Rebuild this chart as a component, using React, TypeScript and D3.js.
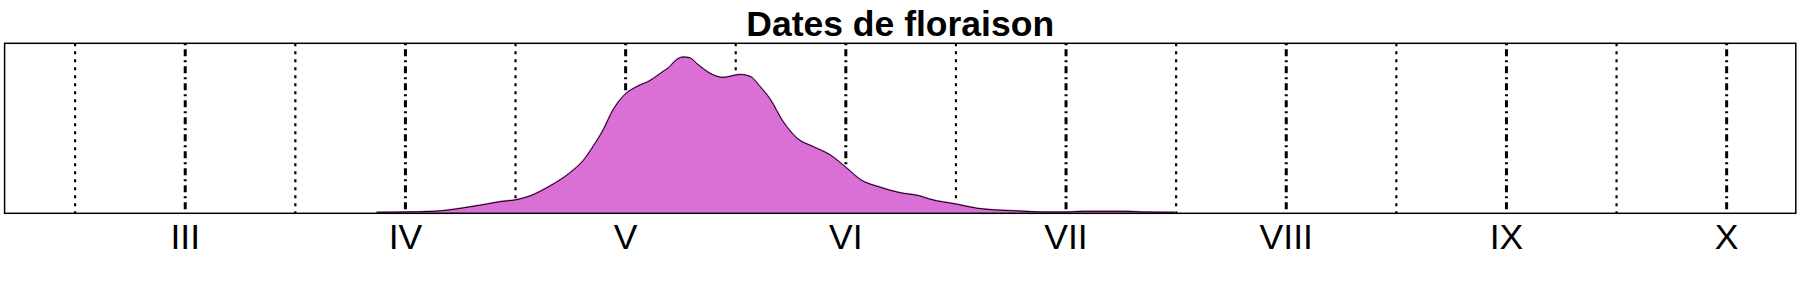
import React from "react";
import * as d3 from "d3";

// Month axis (roman numerals at month starts)
const monthTicks = [3, 4, 5, 6, 7, 8, 9, 10];
const monthLabels = ["III", "IV", "V", "VI", "VII", "VIII", "IX", "X"];
const midMonthTicks = [2.5, 3.5, 4.5, 5.5, 6.5, 7.5, 8.5, 9.5];

// Flowering date density (x in months, y density)
const densX = [
  3.871, 3.998, 4.08, 4.171, 4.262, 4.352, 4.443, 4.498, 4.566, 4.657, 4.748, 4.807,
  4.852, 4.898, 4.943, 4.998, 5.052, 5.111, 5.17, 5.202, 5.215, 5.261, 5.292, 5.324,
  5.397, 5.442, 5.52, 5.565, 5.61, 5.656, 5.715, 5.778, 5.851, 5.928, 6.005, 6.064,
  6.155, 6.246, 6.336, 6.382, 6.504, 6.595, 6.686, 6.79, 6.895, 7.004, 7.077, 7.276,
  7.349, 7.495,
];
const densY = [
  0.006, 0.008, 0.01, 0.016, 0.033, 0.053, 0.074, 0.082, 0.107, 0.169, 0.251, 0.325,
  0.412, 0.515, 0.639, 0.736, 0.783, 0.82, 0.876, 0.907, 0.928, 0.965, 0.96, 0.923,
  0.855, 0.839, 0.857, 0.845, 0.783, 0.705, 0.566, 0.464, 0.412, 0.361, 0.278, 0.21,
  0.161, 0.127, 0.107, 0.087, 0.056, 0.031, 0.02, 0.014, 0.008, 0.008, 0.012, 0.012,
  0.008, 0.006,
];

const title = "Dates de floraison";

export default function App() {
  const W = 1800;
  const H = 300;
  const left = 4.6;
  const right = 1795.8;
  const top = 43.3;
  const bottom = 213.3;

  const x = d3.scaleLinear().domain([2.1798, 10.314]).range([left, right]);
  const y = d3.scaleLinear().domain([0, 1.05]).range([bottom, top]);

  const pts = densX.map((d, i) => [d, densY[i]] as [number, number]);
  const area = d3
    .area<[number, number]>()
    .x((d) => x(d[0]))
    .y0(bottom)
    .y1((d) => y(d[1]))
    .curve(d3.curveMonotoneX);
  const line = d3
    .line<[number, number]>()
    .x((d) => x(d[0]))
    .y((d) => y(d[1]))
    .curve(d3.curveMonotoneX);

  const font = "'Liberation Sans', Arial, sans-serif";

  return (
    <svg
      width={W}
      height={H}
      style={{ position: "absolute", left: 0, top: 0, display: "block", background: "#fff" }}
    >
      <defs>
        <clipPath id="panel">
          <rect x={left} y={top} width={right - left} height={bottom - top} />
        </clipPath>
      </defs>
      <g clipPath="url(#panel)">
        {midMonthTicks.map((m) => (
          <line
            key={"mid" + m}
            x1={x(m)}
            x2={x(m)}
            y1={top}
            y2={bottom}
            stroke="#000"
            strokeWidth={2.2}
            strokeDasharray="3,5"
          />
        ))}
        {monthTicks.map((m) => (
          <line
            key={"m" + m}
            x1={x(m)}
            x2={x(m)}
            y1={top}
            y2={bottom}
            stroke="#000"
            strokeWidth={3}
            strokeDasharray="2,4,7,4"
          />
        ))}
        <path d={area(pts) || ""} fill="#DA70D6" stroke="#DA70D6" strokeWidth={2} />
        <path d={line(pts) || ""} fill="none" stroke="#000" strokeWidth={1} />
      </g>
      <rect
        x={left}
        y={top}
        width={right - left}
        height={bottom - top}
        fill="none"
        stroke="#000"
        strokeWidth={1.5}
      />
      {monthTicks.map((m, i) => (
        <text
          key={"t" + m}
          x={x(m)}
          y={249}
          textAnchor="middle"
          fontFamily={font}
          fontSize={35.5}
          fill="#000"
        >
          {monthLabels[i]}
        </text>
      ))}
      <text
        x={(left + right) / 2}
        y={35.7}
        textAnchor="middle"
        fontFamily={font}
        fontSize={35.5}
        fontWeight="bold"
        fill="#000"
      >
        {title}
      </text>
    </svg>
  );
}
